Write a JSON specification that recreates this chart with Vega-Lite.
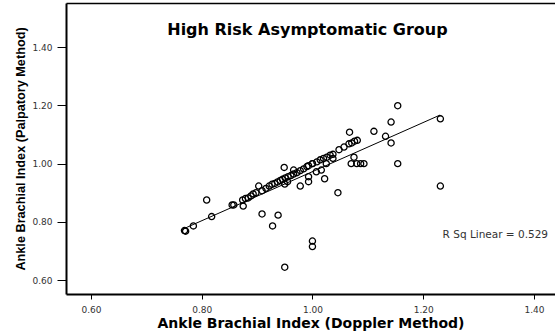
{
  "$schema": "https://vega.github.io/schema/vega-lite/v6.json",
  "autosize": "none",
  "padding": {"left": 66, "top": 3, "right": 0, "bottom": 40},
  "width": 489,
  "height": 291,
  "background": "white",
  "config": {"view": {"stroke": null}},
  "datasets": {
    "pts": [
      {"doppler": 0.769, "palpatory": 0.770}, {"doppler": 0.771, "palpatory": 0.768},
      {"doppler": 0.785, "palpatory": 0.786}, {"doppler": 0.818, "palpatory": 0.818},
      {"doppler": 0.809, "palpatory": 0.875}, {"doppler": 0.855, "palpatory": 0.858},
      {"doppler": 0.858, "palpatory": 0.858}, {"doppler": 0.875, "palpatory": 0.854},
      {"doppler": 0.874, "palpatory": 0.875}, {"doppler": 0.879, "palpatory": 0.880},
      {"doppler": 0.884, "palpatory": 0.882}, {"doppler": 0.889, "palpatory": 0.889},
      {"doppler": 0.893, "palpatory": 0.896}, {"doppler": 0.898, "palpatory": 0.900},
      {"doppler": 0.903, "palpatory": 0.923}, {"doppler": 0.909, "palpatory": 0.907},
      {"doppler": 0.916, "palpatory": 0.915}, {"doppler": 0.922, "palpatory": 0.923},
      {"doppler": 0.927, "palpatory": 0.929}, {"doppler": 0.932, "palpatory": 0.932},
      {"doppler": 0.937, "palpatory": 0.937}, {"doppler": 0.942, "palpatory": 0.942},
      {"doppler": 0.946, "palpatory": 0.946}, {"doppler": 0.951, "palpatory": 0.951},
      {"doppler": 0.956, "palpatory": 0.955}, {"doppler": 0.961, "palpatory": 0.959},
      {"doppler": 0.966, "palpatory": 0.964}, {"doppler": 0.972, "palpatory": 0.969},
      {"doppler": 0.978, "palpatory": 0.976}, {"doppler": 0.984, "palpatory": 0.982},
      {"doppler": 0.990, "palpatory": 0.990}, {"doppler": 0.993, "palpatory": 0.993},
      {"doppler": 1.000, "palpatory": 1.000}, {"doppler": 1.000, "palpatory": 1.000},
      {"doppler": 1.008, "palpatory": 1.006}, {"doppler": 1.014, "palpatory": 1.013},
      {"doppler": 1.020, "palpatory": 1.018}, {"doppler": 1.026, "palpatory": 1.022},
      {"doppler": 1.032, "palpatory": 1.029}, {"doppler": 1.037, "palpatory": 1.032},
      {"doppler": 1.048, "palpatory": 1.048}, {"doppler": 1.057, "palpatory": 1.057},
      {"doppler": 1.066, "palpatory": 1.068}, {"doppler": 1.071, "palpatory": 1.071},
      {"doppler": 1.076, "palpatory": 1.077}, {"doppler": 1.081, "palpatory": 1.080},
      {"doppler": 1.037, "palpatory": 1.018}, {"doppler": 1.025, "palpatory": 1.000},
      {"doppler": 1.016, "palpatory": 0.978}, {"doppler": 1.007, "palpatory": 0.972},
      {"doppler": 0.993, "palpatory": 0.955}, {"doppler": 0.993, "palpatory": 0.938},
      {"doppler": 0.978, "palpatory": 0.923}, {"doppler": 0.966, "palpatory": 0.978},
      {"doppler": 0.949, "palpatory": 0.987}, {"doppler": 0.955, "palpatory": 0.938},
      {"doppler": 0.950, "palpatory": 0.930}, {"doppler": 0.909, "palpatory": 0.827},
      {"doppler": 0.938, "palpatory": 0.823}, {"doppler": 0.928, "palpatory": 0.786},
      {"doppler": 1.000, "palpatory": 0.734}, {"doppler": 1.000, "palpatory": 0.715},
      {"doppler": 0.950, "palpatory": 0.644}, {"doppler": 1.046, "palpatory": 0.900},
      {"doppler": 1.022, "palpatory": 0.948}, {"doppler": 1.075, "palpatory": 1.022},
      {"doppler": 1.070, "palpatory": 1.000}, {"doppler": 1.080, "palpatory": 1.000},
      {"doppler": 1.087, "palpatory": 1.000}, {"doppler": 1.093, "palpatory": 1.000},
      {"doppler": 1.154, "palpatory": 1.000}, {"doppler": 1.231, "palpatory": 0.923},
      {"doppler": 1.142, "palpatory": 1.071}, {"doppler": 1.132, "palpatory": 1.094},
      {"doppler": 1.111, "palpatory": 1.111}, {"doppler": 1.067, "palpatory": 1.108},
      {"doppler": 1.142, "palpatory": 1.143}, {"doppler": 1.154, "palpatory": 1.199},
      {"doppler": 1.231, "palpatory": 1.154}
    ],
    "fit": [
      {"doppler": 0.7625, "palpatory": 0.772},
      {"doppler": 1.2305, "palpatory": 1.167}
    ],
    "heading": [
      {"doppler": 0.991, "palpatory": 1.4425, "label": "High Risk Asymptomatic Group"}
    ],
    "note": [
      {"doppler": 1.235, "palpatory": 0.743, "label": "R Sq Linear = 0.529"}
    ]
  },
  "resolve": {"axis": {"x": "independent"}},
  "layer": [
    {
      "data": {"name": "pts"},
      "mark": {"type": "point", "shape": "circle", "filled": false, "stroke": "black", "strokeWidth": 1.3, "size": 38, "opacity": 1},
      "encoding": {
        "x": {
          "field": "doppler", "type": "quantitative",
          "scale": {"domain": [0.555, 1.438], "nice": false, "zero": false},
          "axis": {
            "orient": "bottom",
            "values": [0.6, 0.8, 1.0, 1.2, 1.4], "format": ".2f", "grid": false,
            "domainColor": "black", "domainWidth": 2,
            "tickColor": "black", "tickWidth": 1, "tickSize": 5,
            "labelFont": "DejaVu Sans", "labelFontSize": 9, "labelColor": "#333",
            "labelPadding": 6, "labelFlush": false, "labelOverlap": false,
            "title": "Ankle Brachial Index (Doppler Method)",
            "titleFont": "DejaVu Sans", "titleFontSize": 14, "titleFontWeight": "bold",
            "titleColor": "black", "titlePadding": 2
          }
        },
        "y": {
          "field": "palpatory", "type": "quantitative",
          "scale": {"domain": [0.552, 1.552], "nice": false, "zero": false},
          "axis": {
            "values": [0.6, 0.8, 1.0, 1.2, 1.4], "format": ".2f", "grid": false,
            "domainColor": "black", "domainWidth": 2,
            "tickColor": "black", "tickWidth": 1, "tickSize": 9,
            "labelFont": "DejaVu Sans", "labelFontSize": 9, "labelColor": "#333",
            "labelPadding": 5, "labelFlush": false, "labelOverlap": false,
            "title": "Ankle Brachial Index (Palpatory Method)",
            "titleFont": "Liberation Sans", "titleFontSize": 12.7, "titleFontWeight": "bold",
            "titleColor": "black", "titlePadding": 4
          }
        }
      }
    },
    {
      "data": {"name": "fit"},
      "mark": {"type": "line", "color": "black", "strokeWidth": 1},
      "encoding": {
        "x": {
          "field": "doppler", "type": "quantitative",
          "axis": {"orient": "top", "domainColor": "black", "domainWidth": 1.5, "ticks": false, "labels": false, "grid": false, "title": null}
        },
        "y": {"field": "palpatory", "type": "quantitative"}
      }
    },
    {
      "data": {"name": "heading"},
      "mark": {"type": "text", "font": "DejaVu Sans", "fontSize": 16, "fontWeight": "bold", "align": "center", "baseline": "alphabetic", "color": "black"},
      "encoding": {
        "x": {"field": "doppler", "type": "quantitative", "axis": null},
        "y": {"field": "palpatory", "type": "quantitative"},
        "text": {"field": "label"}
      }
    },
    {
      "data": {"name": "note"},
      "mark": {"type": "text", "font": "DejaVu Sans", "fontSize": 10.5, "align": "left", "baseline": "alphabetic", "color": "#333"},
      "encoding": {
        "x": {"field": "doppler", "type": "quantitative", "axis": null},
        "y": {"field": "palpatory", "type": "quantitative"},
        "text": {"field": "label"}
      }
    }
  ]
}
